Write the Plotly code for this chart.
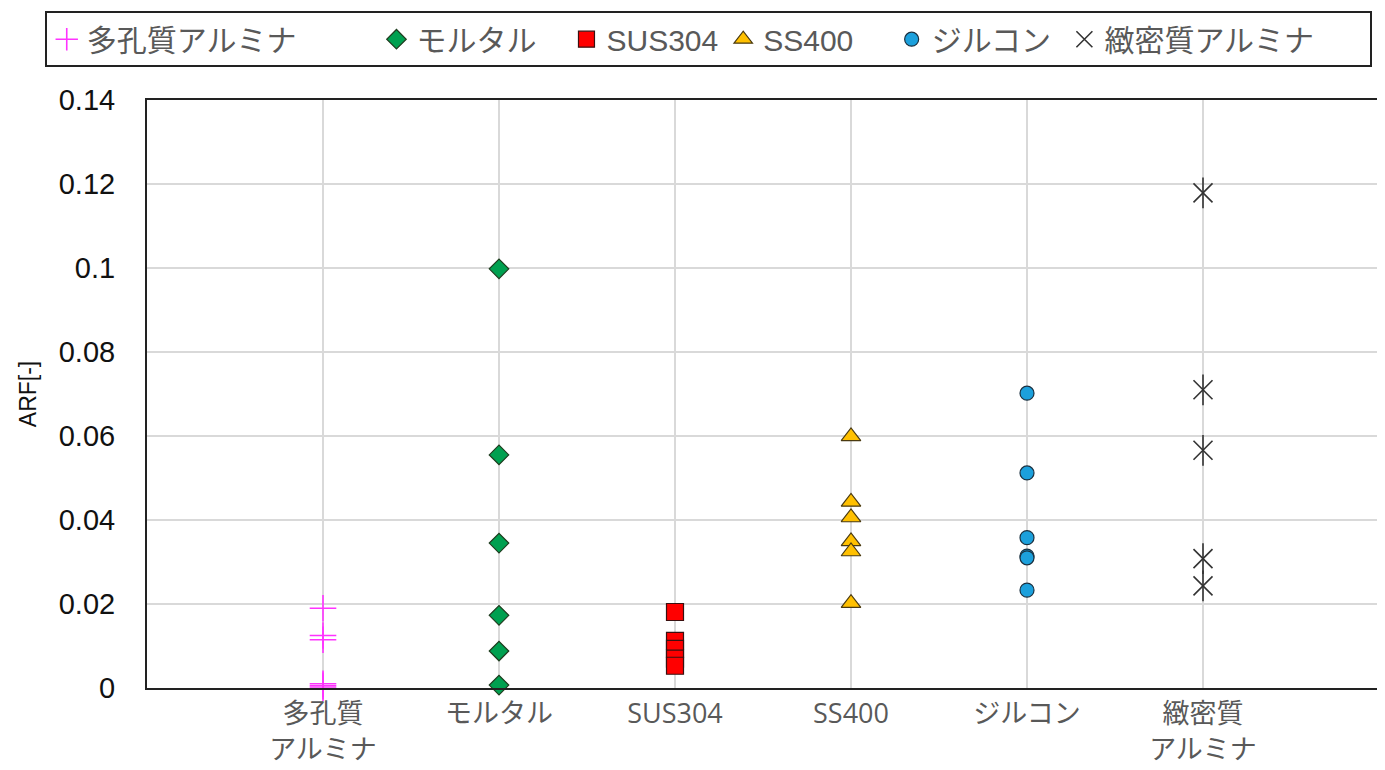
import plotly.graph_objects as go

categories = ["多孔質<br>アルミナ", "モルタル", "SUS304", "SS400", "ジルコン", "緻密質<br>アルミナ"]
series_names = ["多孔質アルミナ", "モルタル", "SUS304", "SS400", "ジルコン", "緻密質アルミナ"]

porous_alumina = [0.019, 0.0125, 0.0115, 0.001, 0.0005, 0.0]
mortar = [0.0998, 0.0555, 0.0345, 0.0173, 0.0088, 0.0007]
sus304 = [0.0181, 0.0112, 0.0093, 0.0070, 0.0053]
ss400 = [0.0599, 0.0443, 0.0406, 0.0349, 0.0325, 0.0202]
zircon = [0.0702, 0.0512, 0.0358, 0.0314, 0.0310, 0.0233]
dense_alumina = [0.1179, 0.0710, 0.0566, 0.0308, 0.0243]

y_ticks = [0, 0.02, 0.04, 0.06, 0.08, 0.1, 0.12, 0.14]
y_ticktext = ["0", "0.02", "0.04", "0.06", "0.08", "0.1", "0.12", "0.14"]

# invisible non-breaking-space padding so legend entries sit where the reference has them
legend_pad = [9, 3, 0, 4, 1, 6]

FONT = "Arial, Liberation Sans, Noto Sans CJK JP, sans-serif"
XFONT = "Open Sans, Noto Sans CJK JP, sans-serif"
fig = go.Figure()

def xs(i, vals):
    return [i] * len(vals)

def lname(i):
    return series_names[i] + "\u00a0" * legend_pad[i]

fig.add_trace(go.Scatter(
    x=xs(0, porous_alumina), y=porous_alumina, mode="markers", name=lname(0),
    marker=dict(symbol="cross-thin-open", size=19, color="#ff33ff", line=dict(width=1.6, color="#ff33ff")),
    cliponaxis=False))
fig.add_trace(go.Scatter(
    x=xs(1, mortar), y=mortar, mode="markers", name=lname(1),
    marker=dict(symbol="diamond", size=15, color="#00a050", line=dict(width=1.2, color="#1f3d1f")),
    cliponaxis=False))
fig.add_trace(go.Scatter(
    x=xs(2, sus304), y=sus304, mode="markers", name=lname(2),
    marker=dict(symbol="square", size=17, color="#ff0000", line=dict(width=1.2, color="#3a1010")),
    cliponaxis=False))
fig.add_trace(go.Scatter(
    x=xs(3, ss400), y=ss400, mode="markers", name=lname(3),
    marker=dict(symbol="triangle-up", size=17, color="#ffc000", line=dict(width=1.2, color="#4a3a10")),
    cliponaxis=False))
fig.add_trace(go.Scatter(
    x=xs(4, zircon), y=zircon, mode="markers", name=lname(4),
    marker=dict(symbol="circle", size=14, color="#1ca0dc", line=dict(width=1.2, color="#1a3040")),
    cliponaxis=False))
fig.add_trace(go.Scatter(
    x=xs(5, dense_alumina), y=dense_alumina, mode="markers", name=lname(5),
    legendgroup="dense",
    marker=dict(symbol="x-thin-open", size=19, color="#333333", line=dict(width=1.6, color="#333333")),
    cliponaxis=False))
fig.add_trace(go.Scatter(
    x=xs(5, dense_alumina), y=dense_alumina, mode="markers", name=series_names[5],
    legendgroup="dense", showlegend=False,
    marker=dict(symbol="line-ns-open", size=22, color="#333333", line=dict(width=1.6, color="#333333")),
    cliponaxis=False))

fig.update_layout(
    width=1377, height=762,
    margin=dict(l=139, r=6, t=92, b=82, autoexpand=False),
    paper_bgcolor="white", plot_bgcolor="white",
    font=dict(family=FONT, size=22, color="#595959"),
    showlegend=True,
    legend=dict(
        orientation="h", x=-0.083, y=1.151, xanchor="left", yanchor="top",
        bordercolor="#222222", borderwidth=2, bgcolor="white",
        font=dict(size=30, color="#595959", family=FONT),
        itemwidth=30, traceorder="normal",
    ),
    xaxis=dict(
        range=[-1, 6], tickmode="array", tickvals=list(range(len(categories))), ticktext=categories,
        showgrid=True, gridcolor="#d9d9d9", gridwidth=2, zeroline=False,
        showline=True, linecolor="#222222", linewidth=2, mirror=True, automargin=False,
        ticks="", ticklabelstandoff=1, tickfont=dict(size=27, color="#595959", family=XFONT),
    ),
    yaxis=dict(
        range=[0, 0.14], tickmode="array", tickvals=y_ticks, ticktext=y_ticktext,
        showgrid=True, gridcolor="#d9d9d9", gridwidth=2, zeroline=False,
        showline=True, linecolor="#222222", linewidth=2, mirror=True, automargin=False,
        ticks="", ticklabelstandoff=24, tickfont=dict(size=29, color="#111111", family=FONT),
        title=dict(text="ARF[-]", font=dict(size=23, color="#111111", family=FONT), standoff=16),
    ),
)

fig.write_html("out.html")
